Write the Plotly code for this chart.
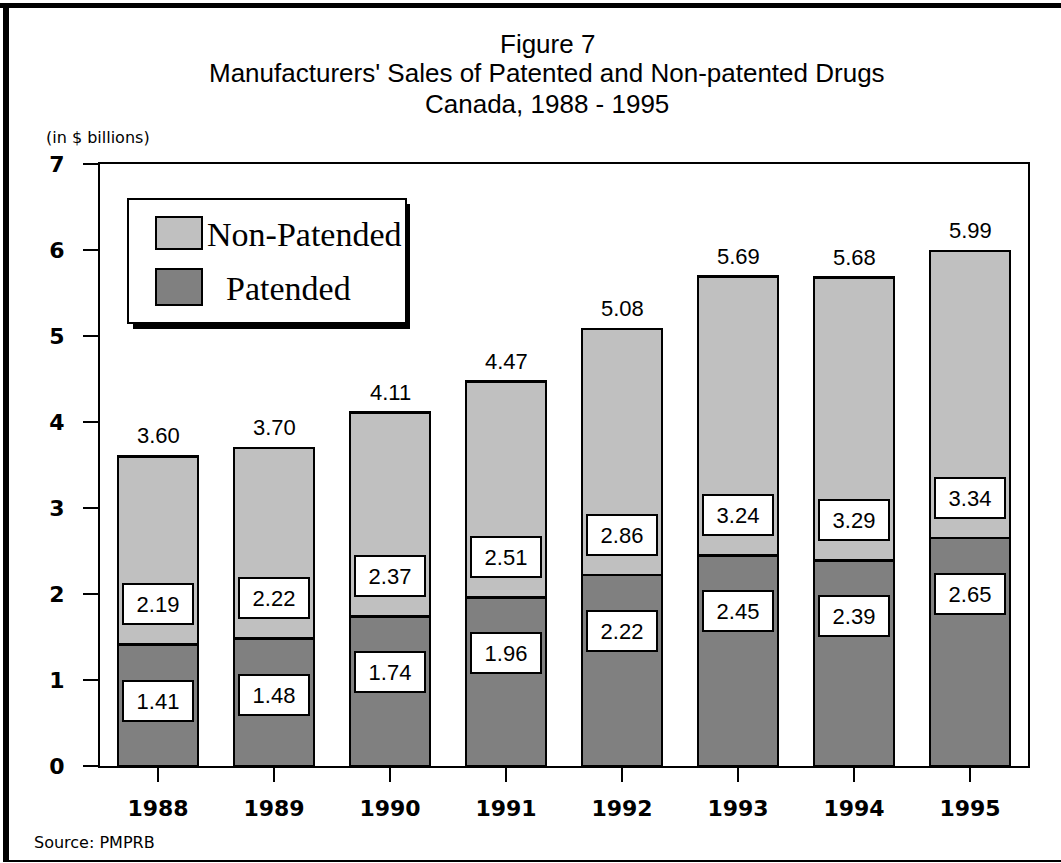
import plotly.graph_objects as go

years = ['1988', '1989', '1990', '1991', '1992', '1993', '1994', '1995']
patented = [1.41, 1.48, 1.74, 1.96, 2.22, 2.45, 2.39, 2.65]
non_patented = [2.19, 2.22, 2.37, 2.51, 2.86, 3.24, 3.29, 3.34]
totals = [3.60, 3.70, 4.11, 4.47, 5.08, 5.69, 5.68, 5.99]

# plot area in pixels: left 100, right 1028, top 164, bottom 766
L, R, T, B = 100, 1028, 164, 766


def px(x):
    return (x - L) / (R - L)


def py(y):
    return (B - y) / (B - T)


fig = go.Figure()

fig.add_trace(go.Bar(x=years, y=patented, name='Patended',
                     marker=dict(color='#808080', line=dict(color='black', width=2.5))))
fig.add_trace(go.Bar(x=years, y=non_patented, name='Non-Patended',
                     marker=dict(color='#c0c0c0', line=dict(color='black', width=2.5))))

annotations = []
label_font = dict(family='Liberation Sans', size=22, color='black')

for i, (p, n, t) in enumerate(zip(patented, non_patented, totals)):
    # total on top of the bar
    annotations.append(dict(x=i, y=t, text=f'{t:.2f}', showarrow=False,
                            yanchor='bottom', yshift=6, font=label_font))
    # boxed segment values
    annotations.append(dict(x=i, y=p - 0.65, text=f'{p:.2f}', showarrow=False,
                            font=label_font, bgcolor='white', bordercolor='black',
                            borderwidth=2, borderpad=5, width=58, height=28))
    annotations.append(dict(x=i, y=p + 0.47, text=f'{n:.2f}', showarrow=False,
                            font=label_font, bgcolor='white', bordercolor='black',
                            borderwidth=2, borderpad=5, width=58, height=28))

title_font = dict(family='Liberation Sans', size=26, color='black')
titles = ['Figure 7', "Manufacturers' Sales of Patented and Non-patented Drugs", 'Canada, 1988 - 1995']
for txt, yy in zip(titles, [44, 73, 104]):
    annotations.append(dict(xref='paper', yref='paper', x=px(547), y=py(yy), text=txt,
                            showarrow=False, xanchor='center', yanchor='middle', font=title_font))

small_font = dict(family='DejaVu Sans', size=16, color='black')
annotations.append(dict(xref='paper', yref='paper', x=px(44), y=py(137), text='(in $ billions)',
                        showarrow=False, xanchor='left', yanchor='middle', font=small_font))
annotations.append(dict(xref='paper', yref='paper', x=px(32), y=py(842), text='Source: PMPRB',
                        showarrow=False, xanchor='left', yanchor='middle', font=small_font))

# hand-drawn legend like the original
legend_font = dict(family='Liberation Serif', size=34, color='black')
annotations.append(dict(xref='paper', yref='paper', x=px(205), y=py(234), text='Non-Patended',
                        showarrow=False, xanchor='left', yanchor='middle', font=legend_font))
annotations.append(dict(xref='paper', yref='paper', x=px(224), y=py(288), text='Patended',
                        showarrow=False, xanchor='left', yanchor='middle', font=legend_font))

shapes = [
    # outer frame
    dict(type='rect', xref='paper', yref='paper', x0=px(0), x1=px(1061), y0=py(3), y1=py(8),
         fillcolor='black', line=dict(width=0)),
    dict(type='rect', xref='paper', yref='paper', x0=px(3), x1=px(9), y0=py(3), y1=py(862),
         fillcolor='black', line=dict(width=0)),
    dict(type='line', xref='paper', yref='paper', x0=px(3), x1=px(1061), y0=py(861), y1=py(861),
         line=dict(color='black', width=2)),
    # legend shadow and box
    dict(type='rect', xref='paper', yref='paper', x0=px(133), x1=px(410), y0=py(204), y1=py(329),
         fillcolor='black', line=dict(width=0)),
    dict(type='rect', xref='paper', yref='paper', x0=px(128), x1=px(406), y0=py(199), y1=py(323),
         fillcolor='white', line=dict(color='black', width=2)),
    dict(type='rect', xref='paper', yref='paper', x0=px(156), x1=px(202), y0=py(217), y1=py(249),
         fillcolor='#c0c0c0', line=dict(color='black', width=2)),
    dict(type='rect', xref='paper', yref='paper', x0=px(156), x1=px(202), y0=py(269), y1=py(305),
         fillcolor='#808080', line=dict(color='black', width=2)),
]

fig.update_layout(
    barmode='stack',
    bargap=0.31,
    width=1061,
    height=863,
    showlegend=False,
    plot_bgcolor='white',
    paper_bgcolor='white',
    margin=dict(l=L, r=1061 - R, t=T, b=863 - B),
    annotations=annotations,
    shapes=shapes,
    xaxis=dict(
        type='category', categoryorder='array', categoryarray=years,
        range=[-0.5, len(years) - 0.5],
        showline=True, linecolor='black', linewidth=2, mirror=True,
        ticks='outside', ticklen=14, tickwidth=2, tickcolor='black',
        tickfont=dict(family='DejaVu Sans', size=22, color='black', weight='bold'),
        ticklabelstandoff=8,
        showgrid=False,
    ),
    yaxis=dict(
        range=[0, 7], dtick=1,
        showline=True, linecolor='black', linewidth=2, mirror=True,
        ticks='outside', ticklen=15, tickwidth=2, tickcolor='black',
        tickfont=dict(family='DejaVu Sans', size=22, color='black', weight='bold'),
        ticklabelstandoff=14,
        showgrid=False, zeroline=False,
    ),
)

fig.write_html('out.html', config=dict(displayModeBar=False),
               post_script="document.body.style.margin='0';")
